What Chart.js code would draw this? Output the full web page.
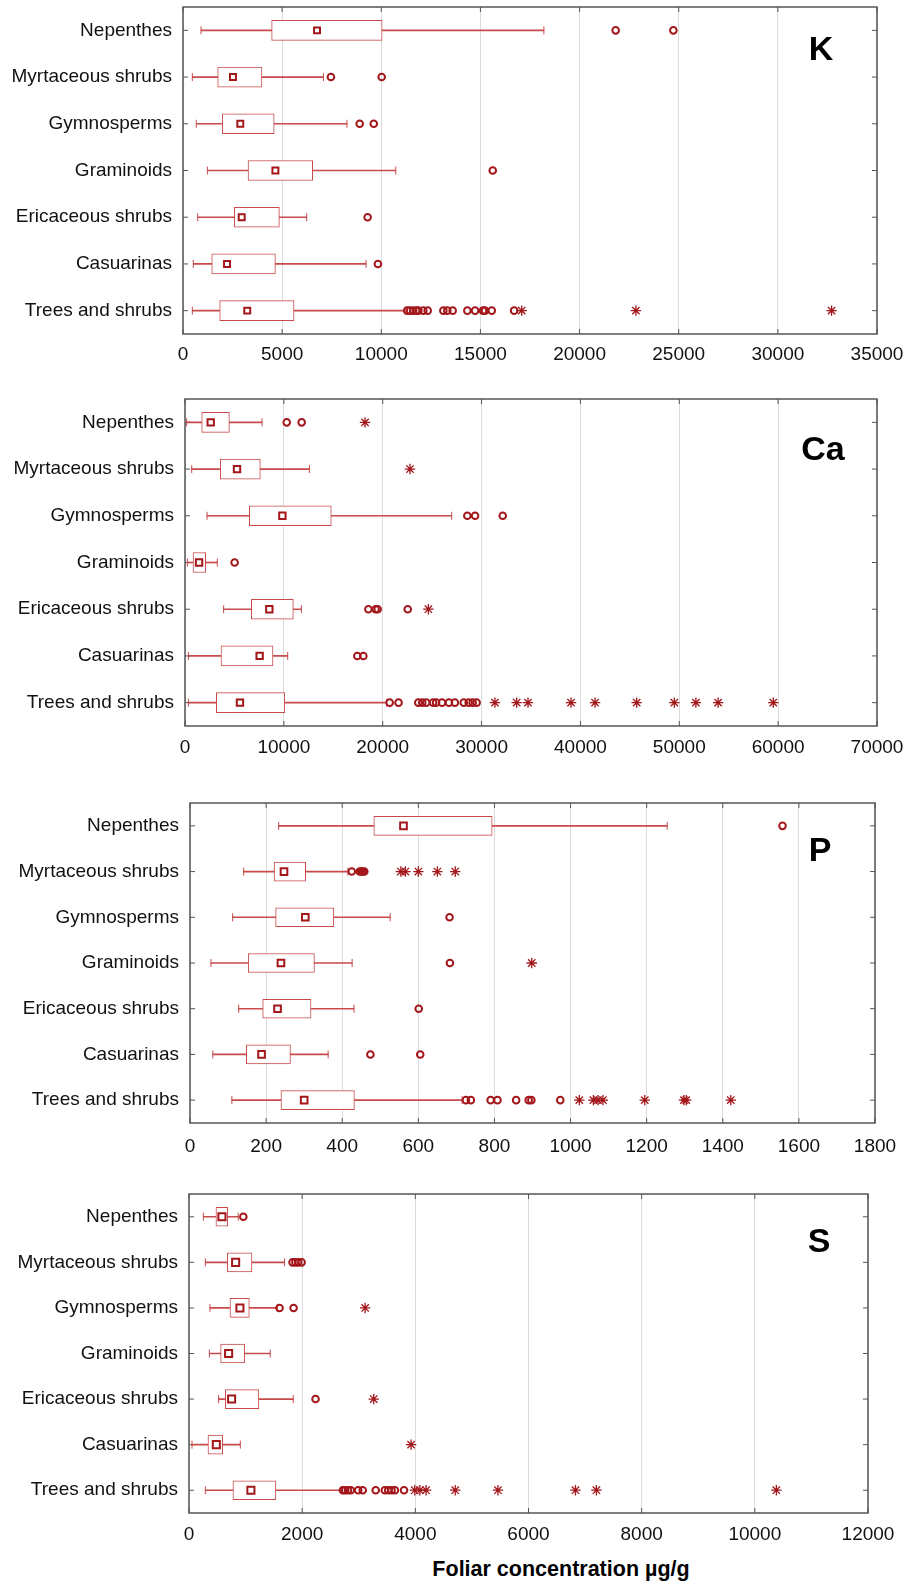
<!DOCTYPE html>
<html>
<head>
<meta charset="utf-8">
<script src="https://cdn.jsdelivr.net/npm/chart.js@4.4.1/dist/chart.umd.min.js"></script>
<style>
html,body{margin:0;padding:0;background:#fff;}
body{width:908px;height:1586px;position:relative;overflow:hidden;}
canvas{position:absolute;left:0;}
#xtitle{position:absolute;left:361px;width:400px;top:1557px;text-align:center;font:bold 21.5px 'Liberation Sans',Arial,sans-serif;line-height:24px;color:#000;}
</style>
</head>
<body>
<canvas id="cK"></canvas>
<canvas id="cCa"></canvas>
<canvas id="cP"></canvas>
<canvas id="cS"></canvas>
<div id="xtitle">Foliar concentration µg/g</div>
<script>
// ---------------- DATA ----------------
const categories = ["Nepenthes","Myrtaceous shrubs","Gymnosperms","Graminoids","Ericaceous shrubs","Casuarinas","Trees and shrubs"];

// K (µg/g)
const K_axis = [0, 35000, 5000];
const K_min    = [910, 470, 670, 1230, 740, 520, 470];
const K_q1     = [4470, 1750, 1980, 3280, 2590, 1450, 1850];
const K_median = [6760, 2520, 2890, 4660, 2960, 2220, 3240];
const K_q3     = [10040, 3980, 4600, 6540, 4860, 4660, 5600];
const K_max    = [18200, 7080, 8270, 10730, 6240, 9230, 11200];
const K_outliers = [[21820, 24730],[7460, 10020],[8910, 9620],[15620],[9310],[9830],
  [11310, 11450, 11610, 11760, 11870, 12120, 12340, 13130, 13330, 13600, 14340, 14730, 15130, 15230, 15570, 16700]];
const K_extremes = [[],[],[],[],[],[],[17080, 22840, 32710]];

// Ca
const Ca_axis = [0, 70000, 10000];
const Ca_min    = [170, 680, 2230, 240, 3910, 340, 340];
const Ca_q1     = [1690, 3570, 6510, 810, 6710, 3640, 3170];
const Ca_median = [2600, 5260, 9850, 1420, 8530, 7550, 5560];
const Ca_q3     = [4490, 7620, 14800, 2090, 10960, 8900, 10090];
const Ca_max    = [7790, 12580, 26980, 3270, 11770, 10390, 20400];
const Ca_outliers = [[10290, 11800],[],[28560, 29340, 32140],[5020],[18550, 19280, 19490, 22530],[17430, 18040],
  [20700, 21600, 23600, 24000, 24400, 25100, 25400, 26000, 26700, 27300, 28200, 28700, 29100, 29500]];
const Ca_extremes = [[18210],[22760],[],[],[24620],[],[31350, 33550, 34700, 39050, 41480, 45690, 49500, 51680, 53930, 59510]];

// P
const P_axis = [0, 1800, 200];
const P_min    = [233, 141, 112, 55, 128, 60, 110];
const P_q1     = [483, 221, 225, 153, 191, 148, 239];
const P_median = [561, 247, 303, 239, 230, 188, 300];
const P_q3     = [794, 304, 378, 327, 318, 264, 432];
const P_max    = [1254, 415, 526, 426, 431, 363, 715];
const P_outliers = [[1557],[425, 446, 450, 454, 458],[682],[683],[601],[474, 605],[725, 738, 790, 808, 857, 890, 897, 973]];
const P_extremes = [[],[554, 566, 600, 650, 697],[],[898],[],[],[1023, 1060, 1072, 1085, 1195, 1298, 1304, 1421]];

// S
const S_axis = [0, 12000, 2000];
const S_min    = [254, 289, 371, 360, 524, 53, 289];
const S_q1     = [476, 678, 724, 559, 642, 335, 776];
const S_median = [582, 824, 900, 700, 753, 483, 1094];
const S_q3     = [683, 1112, 1066, 983, 1235, 595, 1535];
const S_max    = [870, 1689, 1560, 1436, 1842, 907, 2690];
const S_outliers = [[960],[1830, 1880, 1930, 1990],[1600, 1848],[],[2236],[],
  [2720, 2760, 2810, 2860, 2990, 3070, 3300, 3460, 3520, 3580, 3640, 3800]];
const S_extremes = [[],[],[3113],[],[3265],[3925],[3990, 4080, 4190, 4705, 5460, 6830, 7200, 10380]];

// ---------------- STYLE / LAYOUT ----------------
const LINE = '#c84a4a';
const MARK = '#a3161a';
const FONT = "'Liberation Sans', Arial, sans-serif";

function framePlugin(p) {
  return {
    id: 'frame_' + p.id,
    beforeDatasetsDraw(chart) {
      const {ctx, chartArea: a, scales: {x, y}} = chart;
      ctx.save();
      ctx.strokeStyle = '#555';
      ctx.lineWidth = 1;
      ctx.beginPath();
      x.ticks.forEach((t, i) => {
        const px = x.getPixelForTick(i);
        ctx.moveTo(px, a.top); ctx.lineTo(px, a.top + 5);
        ctx.moveTo(px, a.bottom); ctx.lineTo(px, a.bottom - 5);
      });
      y.ticks.forEach((t, i) => {
        const py = y.getPixelForTick(i);
        ctx.moveTo(a.left, py); ctx.lineTo(a.left + 5, py);
        ctx.moveTo(a.right, py); ctx.lineTo(a.right - 5, py);
      });
      ctx.stroke();
      ctx.lineWidth = 1.5;
      ctx.strokeRect(a.left, a.top, a.right - a.left, a.bottom - a.top);
      ctx.restore();
    },
    afterDraw(chart) {
      const ctx = chart.ctx;
      ctx.save();
      ctx.font = 'bold 34px ' + FONT;
      ctx.fillStyle = '#000';
      ctx.textAlign = 'center';
      ctx.textBaseline = 'middle';
      ctx.fillText(p.letter, p.letterX, p.letterY - p.canvasTop);
      ctx.restore();
    }
  };
}

function makePanel(p) {
  const cv = document.getElementById(p.id);
  cv.width = 908; cv.height = p.canvasH;
  cv.style.width = '908px'; cv.style.height = p.canvasH + 'px';
  cv.style.top = p.canvasTop + 'px';

  const whisk = categories.map((c, i) => [p.min[i], p.max[i]]);
  const box = categories.map((c, i) => [p.q1[i], p.q3[i]]);
  const caps = [];
  categories.forEach((c, i) => { caps.push({x: p.min[i], y: c}, {x: p.max[i], y: c}); });
  const meds = categories.map((c, i) => ({x: p.med[i], y: c}));
  const outs = [];
  p.out.forEach((list, i) => list.forEach(v => outs.push({x: v, y: categories[i]})));
  const exts = [];
  p.ext.forEach((list, i) => list.forEach(v => exts.push({x: v, y: categories[i]})));

  new Chart(cv, {
    type: 'bar',
    data: {
      labels: categories,
      datasets: [
        {type: 'bar', data: whisk, backgroundColor: LINE, borderWidth: 0, barThickness: 1, grouped: false, order: 6},
        {type: 'bar', data: box, backgroundColor: '#ffffff', borderColor: LINE, borderWidth: 1, borderSkipped: false, barThickness: p.boxH, grouped: false, order: 5},
        {type: 'scatter', data: caps, pointStyle: 'line', rotation: 90, radius: 4, borderColor: LINE, borderWidth: 1, order: 4},
        {type: 'scatter', data: outs, pointStyle: 'circle', radius: 3.3, borderWidth: 2, borderColor: MARK, backgroundColor: 'rgba(0,0,0,0)', order: 3},
        {type: 'scatter', data: exts, pointStyle: 'star', radius: 5.2, borderWidth: 1.3, borderColor: MARK, order: 2},
        {type: 'scatter', data: meds, pointStyle: 'rect', radius: p.medR, borderWidth: 2, borderColor: MARK, backgroundColor: '#ffffff', order: 1}
      ]
    },
    options: {
      indexAxis: 'y',
      responsive: false,
      animation: false,
      events: [],
      devicePixelRatio: 1,
      layout: {padding: {left: 0, right: 908 - p.right, top: p.top - p.canvasTop, bottom: 0}},
      plugins: {legend: {display: false}, tooltip: {enabled: false}},
      scales: {
        x: {
          type: 'linear', min: p.axis[0], max: p.axis[1],
          ticks: {stepSize: p.axis[2], padding: p.tickPad, color: '#111', font: {family: FONT, size: 19},
                  callback: v => String(v), maxRotation: 0, autoSkip: false},
          grid: {color: '#dcdcdc', lineWidth: 1, drawTicks: false},
          border: {display: false},
          afterFit: s => { s.height = p.canvasTop + p.canvasH - p.bottom; s.paddingLeft = 0; s.paddingRight = 0; }
        },
        y: {
          type: 'category', offset: true,
          ticks: {padding: 11, color: '#111', font: {family: FONT, size: 19}},
          grid: {display: false, drawTicks: false},
          border: {display: false},
          afterFit: s => { s.width = p.left; s.paddingTop = 0; s.paddingBottom = 0; }
        }
      }
    },
    plugins: [framePlugin(p)]
  });
}

makePanel({id: 'cK', canvasTop: 0, canvasH: 372, top: 7, bottom: 334, left: 183, right: 877, boxH: 20, medR: 4.2, tickPad: 9,
  letter: 'K', letterX: 821, letterY: 51, axis: K_axis,
  min: K_min, q1: K_q1, med: K_median, q3: K_q3, max: K_max, out: K_outliers, ext: K_extremes});
makePanel({id: 'cCa', canvasTop: 372, canvasH: 392, top: 399, bottom: 726, left: 185, right: 877, boxH: 20, medR: 4.5, tickPad: 10,
  letter: 'Ca', letterX: 823, letterY: 451, axis: Ca_axis,
  min: Ca_min, q1: Ca_q1, med: Ca_median, q3: Ca_q3, max: Ca_max, out: Ca_outliers, ext: Ca_extremes});
makePanel({id: 'cP', canvasTop: 764, canvasH: 396, top: 803, bottom: 1123, left: 190, right: 875, boxH: 19, medR: 4.7, tickPad: 12,
  letter: 'P', letterX: 820, letterY: 852, axis: P_axis,
  min: P_min, q1: P_q1, med: P_median, q3: P_q3, max: P_max, out: P_outliers, ext: P_extremes});
makePanel({id: 'cS', canvasTop: 1160, canvasH: 392, top: 1194, bottom: 1513, left: 189, right: 868, boxH: 19, medR: 5, tickPad: 10,
  letter: 'S', letterX: 819, letterY: 1243, axis: S_axis,
  min: S_min, q1: S_q1, med: S_median, q3: S_q3, max: S_max, out: S_outliers, ext: S_extremes});
</script>
</body>
</html>
